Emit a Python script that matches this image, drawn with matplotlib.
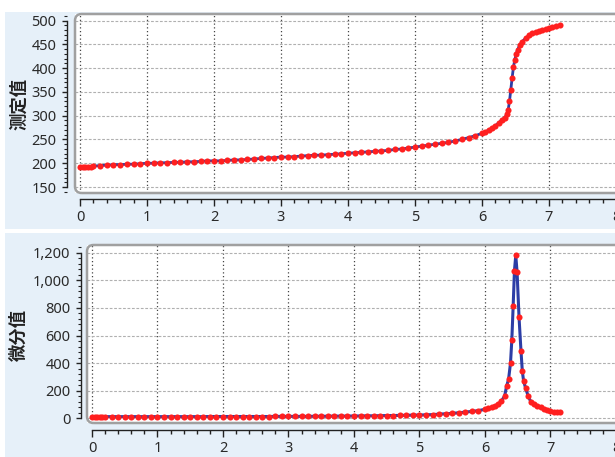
import matplotlib
matplotlib.use("Agg")
import matplotlib.pyplot as plt
from matplotlib.patches import Rectangle, FancyBboxPatch
from matplotlib.ticker import MultipleLocator, FuncFormatter

plt.rcParams['font.family'] = ['Noto Sans', 'DejaVu Sans']

# ---- data: measured value (top) ----
x_top = [0.00, 0.04, 0.08, 0.12, 0.16, 0.20, 0.30, 0.40, 0.50, 0.60, 0.70, 0.80, 0.90,
         1.00, 1.10, 1.20, 1.30, 1.40, 1.50, 1.60, 1.70, 1.80, 1.90,
         2.00, 2.10, 2.20, 2.30, 2.40, 2.50, 2.60, 2.70, 2.80, 2.90,
         3.00, 3.10, 3.20, 3.30, 3.40, 3.50, 3.60, 3.70, 3.80, 3.90,
         4.00, 4.10, 4.20, 4.30, 4.40, 4.50, 4.60, 4.70, 4.80, 4.90,
         5.00, 5.10, 5.20, 5.30, 5.40, 5.50, 5.60, 5.70, 5.80, 5.90,
         6.00, 6.05, 6.10, 6.15, 6.20, 6.25, 6.30, 6.34, 6.37, 6.39, 6.41, 6.43,
         6.45, 6.47, 6.49, 6.51, 6.53, 6.56, 6.60, 6.65, 6.70, 6.75, 6.80, 6.85,
         6.90, 6.95, 7.00, 7.05, 7.10, 7.16]
y_top = [192, 192, 193, 193, 193, 194, 195, 196, 197, 197, 198, 198, 199,
         200, 200, 201, 201, 202, 202, 203, 203, 204, 205,
         205, 205, 206, 207, 207, 208, 209, 210, 211, 212,
         213, 213, 214, 215, 216, 217, 217, 218, 219, 220,
         221, 222, 223, 224, 225, 226, 227, 229, 230, 232,
         234, 236, 238, 240, 242, 244, 247, 250, 254, 258,
         263, 266, 270, 274, 279, 285, 292, 296, 303, 312, 330, 355,
         380, 403, 418, 430, 438, 448, 456, 463, 469, 473, 476, 478,
         480, 482, 484, 486, 488, 490]

# ---- data: differential value (bottom) ----
x_bot = [0.00, 0.04, 0.08, 0.12, 0.16, 0.20, 0.30, 0.40, 0.50, 0.60, 0.70, 0.80, 0.90,
         1.00, 1.10, 1.20, 1.30, 1.40, 1.50, 1.60, 1.70, 1.80, 1.90,
         2.00, 2.10, 2.20, 2.30, 2.40, 2.50, 2.60, 2.70, 2.80, 2.90,
         3.00, 3.10, 3.20, 3.30, 3.40, 3.50, 3.60, 3.70, 3.80, 3.90,
         4.00, 4.10, 4.20, 4.30, 4.40, 4.50, 4.60, 4.70, 4.80, 4.90,
         5.00, 5.10, 5.20, 5.30, 5.40, 5.50, 5.60, 5.70, 5.80, 5.90,
         6.00, 6.05, 6.10, 6.15, 6.20, 6.25, 6.30, 6.33, 6.36, 6.39, 6.41, 6.43,
         6.45, 6.47, 6.49, 6.52, 6.55, 6.57, 6.59, 6.62, 6.66, 6.70, 6.75, 6.80,
         6.85, 6.90, 6.95, 7.00, 7.05, 7.10, 7.14]
y_bot = [8, 10, 10, 11, 11, 12, 12, 12, 12, 12, 12, 12, 12,
         12, 12, 12, 12, 12, 12, 12, 12, 13, 13,
         13, 13, 13, 13, 13, 13, 13, 13, 14, 14,
         14, 14, 14, 14, 15, 15, 15, 16, 16, 16,
         17, 17, 18, 18, 19, 20, 20, 21, 22, 23,
         24, 25, 27, 30, 33, 36, 40, 45, 50, 56,
         65, 72, 80, 90, 101, 125, 161, 233, 282, 402, 570, 811,
         1071, 1180, 1061, 731, 486, 342, 269, 220, 160, 120, 105, 90,
         80, 68, 58, 52, 48, 45, 45]

top_yticks = [150, 200, 250, 300, 350, 400, 450, 500]
bot_yticks = [0, 200, 400, 600, 800, 1000, 1200]
xticks = [0, 1, 2, 3, 4, 5, 6, 7, 8]

W, H = 615, 457
fig = plt.figure(figsize=(W / 100, H / 100), dpi=100)
fig.patch.set_facecolor('white')

def fx(px):
    return px / W

def fy(py):
    return 1 - py / H

# light blue panel backgrounds
bg = '#e6f0f9'
fig.patches.append(Rectangle((fx(5), fy(229)), fx(615 - 5), (229 - 12) / H,
                             transform=fig.transFigure, facecolor=bg, edgecolor='none', zorder=-10))
fig.patches.append(Rectangle((fx(5), fy(457)), fx(615 - 5), (457 - 233) / H,
                             transform=fig.transFigure, facecolor=bg, edgecolor='none', zorder=-10))

line_c = '#2c3da6'
mark_c = '#ff1f1f'


def setup(ax, wpx, hpx, left_off, bot_off, ybounds):
    ax.set_zorder(2)
    ax.set_facecolor('white')
    for s in ['top', 'right']:
        ax.spines[s].set_visible(False)
    ax.spines['left'].set_position(('outward', left_off * 0.72))
    ax.spines['bottom'].set_position(('outward', bot_off * 0.72))
    ax.spines['left'].set_bounds(*ybounds)
    ax.spines['bottom'].set_bounds(0, 8.3)
    for s in ['left', 'bottom']:
        ax.spines[s].set_color('#222222')
        ax.spines[s].set_linewidth(1.0)
    ax.xaxis.set_minor_locator(MultipleLocator(0.2))
    ax.set_xticks(xticks)
    ax.tick_params(axis='x', which='major', length=5, width=1.0, pad=3,
                   labelsize=10.5, labelcolor='#2a2a2a', color='#222222')
    ax.tick_params(axis='x', which='minor', length=3, width=1.0, color='#222222')
    ax.tick_params(axis='y', which='major', length=3.6, width=1.0, pad=4,
                   labelsize=10.5, labelcolor='#2a2a2a', color='#222222')
    ax.tick_params(axis='y', which='minor', length=2.2, width=0.8, color='#222222')
    ax.grid(axis='x', which='major', color='#444444', linestyle=(0, (1, 2)), linewidth=0.9)
    ax.grid(axis='y', which='major', color='#b0b0b0', linestyle=(0, (2.5, 1.5)), linewidth=0.8)
    ax.set_axisbelow(True)
    frame = FancyBboxPatch((0, 0), 1, 1, boxstyle='round,pad=0,rounding_size=0.012',
                           mutation_aspect=wpx / hpx, transform=ax.transAxes,
                           facecolor='none', edgecolor='#a0a0a0', linewidth=1.8,
                           clip_on=False, zorder=5)
    ax.add_patch(frame)


# ---- top axes ----
t_l, t_t, t_b, t_r = 75, 14, 193, 636
ax1 = fig.add_axes([fx(t_l), fy(t_b), (t_r - t_l) / W, (t_b - t_t) / H])
setup(ax1, t_r - t_l, t_b - t_t, 8, 6, (150, 500))
ax1.set_xlim(-0.0746, -0.0746 + (t_r - t_l) / 67.0)
ax1.set_ylim(137.4, 514)
ax1.set_yticks(top_yticks)
ax1.yaxis.set_minor_locator(MultipleLocator(10))
ax1.plot(x_top, y_top, color=line_c, linewidth=2.0, zorder=3)
ax1.plot(x_top, y_top, linestyle='none', marker='o', markersize=4.4,
         markerfacecolor=mark_c, markeredgecolor='none', zorder=4)

# ---- bottom axes ----
b_l, b_t, b_b, b_r = 87, 245, 423, 636
ax2 = fig.add_axes([fx(b_l), fy(b_b), (b_r - b_l) / W, (b_b - b_t) / H])
setup(ax2, b_r - b_l, b_b - b_t, 6, 7, (0, 1200))
ax2.set_xlim(-0.076, -0.076 + (b_r - b_l) / 65.5)
ax2.set_ylim(-34, 1256)
ax2.set_yticks(bot_yticks)
ax2.yaxis.set_minor_locator(MultipleLocator(40))
ax2.yaxis.set_major_formatter(FuncFormatter(lambda v, p: f"{int(v):,}"))
ax2.plot(x_bot, y_bot, color=line_c, linewidth=2.2, zorder=3)
ax2.plot(x_bot, y_bot, linestyle='none', marker='o', markersize=4.4,
         markerfacecolor=mark_c, markeredgecolor='none', zorder=4)

# axis titles
fig.text(fx(19), fy(104), '测定值', rotation=90, ha='center', va='center',
         fontsize=12.5, fontweight='bold', color='#222222',
         family=['Noto Sans CJK SC', 'DejaVu Sans'])
fig.text(fx(19), fy(335), '微分值', rotation=90, ha='center', va='center',
         fontsize=12.5, fontweight='bold', color='#222222',
         family=['Noto Sans CJK SC', 'DejaVu Sans'])

fig.savefig('out.png', dpi=100)
